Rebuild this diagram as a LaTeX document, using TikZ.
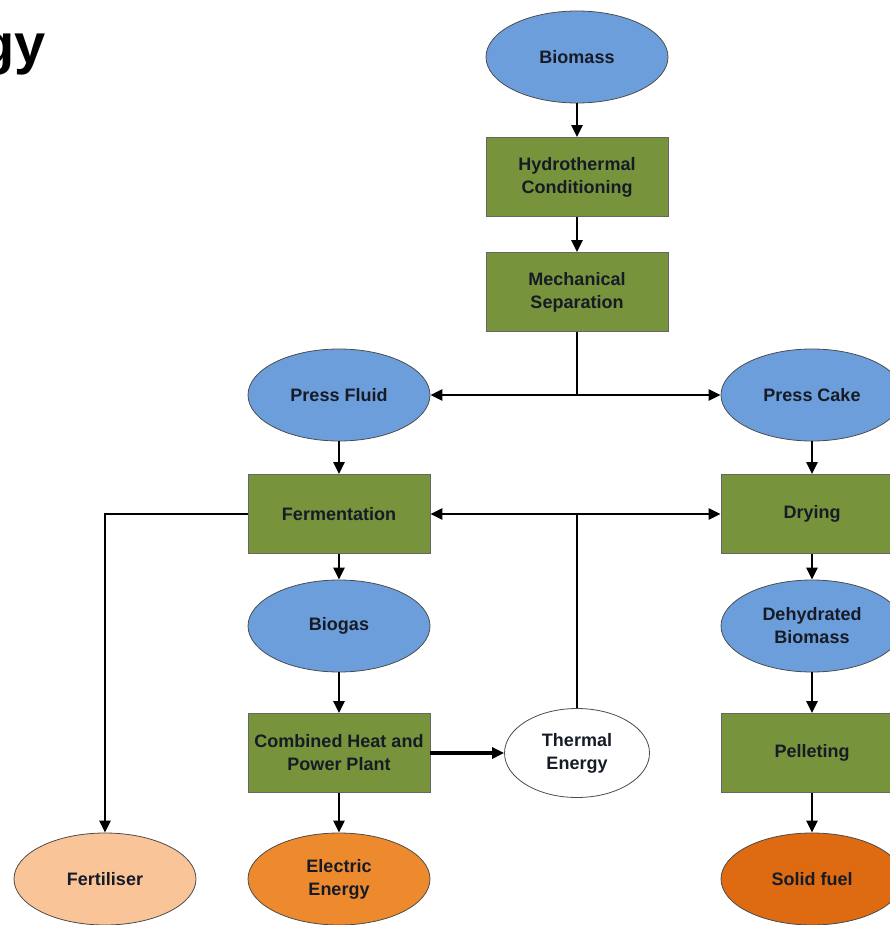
\documentclass[tikz,border=0pt]{standalone}
\usepackage{fontspec}
\setmainfont{Liberation Sans}
\usepackage{tikz}
\usetikzlibrary{arrows.meta, shapes.geometric}
\definecolor{blobblue}{HTML}{6D9EDC}
\definecolor{boxgreen}{HTML}{77933C}
\definecolor{paleorange}{HTML}{F9C598}
\definecolor{midorange}{HTML}{EE8A2E}
\definecolor{deeporange}{HTML}{DE6A12}
\definecolor{inkdark}{HTML}{161B26}

\begin{document}
\begin{tikzpicture}[x=1pt, y=-1pt,
                  label/.style={font=\fontsize{18}{23}\selectfont\bfseries, text=inkdark, align=center, inner sep=0pt},
                  blob/.style={label, ellipse, draw=black!70, line width=0.8pt,
                              minimum width=182pt, minimum height=92pt},
                  stuff/.style={blob, fill=blobblue},
                  procbox/.style={label, rectangle, draw=black!60, line width=0.8pt, fill=boxgreen,
                              minimum width=182pt, minimum height=79pt},
                  heat/.style={blob, fill=white, minimum width=145pt, minimum height=89pt},
                  fert/.style={blob, fill=paleorange},
                  power/.style={blob, fill=midorange},
                  fuel/.style={blob, fill=deeporange},
                  arr/.style={-{Triangle[length=12pt, width=11pt]}, line width=2.3pt},
                  bothways/.style={{Triangle[length=12pt, width=11pt]}-{Triangle[length=12pt, width=11pt]}, line width=2.3pt},
            ]
            \clip (0,0) rectangle (890,925);

            % cut-off title
            \node[anchor=base east, inner sep=0pt, font=\fontsize{56}{56}\selectfont\bfseries] (title) at (46,64) {gy};

            % Centre column: pre-treatment
            \node[stuff] (biomass) at (577,57) {Biomass};
            \node[procbox] (hydro) at (577,177) {Hydrothermal\\Conditioning};
            \node[procbox] (mech) at (577,292) {Mechanical\\Separation};

            % Row: separated fractions
            \node[stuff] (fluid) at (339,395) {Press Fluid};
            \node[stuff] (cake) at (812,395) {Press Cake};

            % Left column: wet path
            \node[procbox] (ferm) at (339,514) {Fermentation};
            \node[stuff] (biogas) at (339,626) {Biogas};
            \node[procbox] (chp) at (339,753) {Combined Heat and\\Power Plant};
            \node[heat] (thermal) at (577,753) {Thermal\\Energy};

            % Right column: dry path
            \node[procbox] (dry) at (812,514) {Drying};
            \node[stuff] (dehyd) at (812,626) {Dehydrated\\Biomass};
            \node[procbox] (pellet) at (812,753) {Pelleting};

            % Bottom row: products
            \node[fert] (fertiliser) at (105,879) {Fertiliser};
            \node[power] (elec) at (339,879) {Electric\\Energy};
            \node[fuel] (solid) at (812,879) {Solid fuel};

            % Arrows
            \draw[arr] (biomass) -- (hydro);
            \draw[arr] (hydro) -- (mech);
            \draw[line width=2.3pt] (mech.south) -- (mech.south |- fluid.east) coordinate (split);
            \draw[bothways] (fluid.east) -- (cake.west);
            \draw[arr] (fluid) -- (ferm);
            \draw[arr] (cake) -- (dry);
            \draw[arr] (ferm) -- (biogas);
            \draw[arr] (biogas) -- (chp);
            \draw[arr] (chp) -- (elec);
            \draw[arr, line width=4.5pt] (chp.east) -- (thermal.west);
            % heat from the CHP goes back to fermentation and drying
            \draw[line width=2.3pt] (thermal.north) -- (thermal.north |- ferm.east) coordinate (heatsplit);
            \draw[bothways] (ferm.east) -- (dry.west);
            \draw[arr] (ferm.west) -| (fertiliser.north);
            \draw[arr] (dry) -- (dehyd);
            \draw[arr] (dehyd) -- (pellet);
            \draw[arr] (pellet) -- (solid);

      \end{tikzpicture}
\end{document}
